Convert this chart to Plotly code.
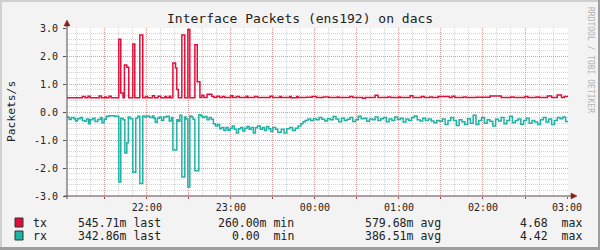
import plotly.graph_objects as go

# ---------------- data (minutes after 21:00) ----------------
tx_time = [3, 14, 16, 18, 19.5, 26, 27.5, 30, 31, 33, 34.5,
           40, 41.4, 43, 44, 45.7, 47.1, 50, 51.4, 55, 57.1,
           59, 60.5, 64, 65.5, 68, 70, 73, 74, 76, 77,
           78.6, 80.5, 81.4, 82.5, 85, 87.1, 89.3, 90.7, 94.3, 96, 97.9,
           99.3, 100.7, 103, 106.4, 108, 110, 112, 114, 115.5, 120, 121.4,
           124, 126, 131, 132, 137, 139, 148, 150, 155, 156, 162, 163,
           167, 168, 174, 178, 181, 186, 190, 196, 197, 205, 207, 214, 216,
           223, 225, 232, 234, 240, 241, 248, 250, 256, 258, 262, 264,
           268, 276, 278, 280, 286, 288, 295, 305, 313, 320, 322, 330, 332,
           338, 340, 346, 349, 353, 356, 358, 361]
tx_value = [0.51, 0.55, 0.51, 0.56, 0.51, 0.57, 0.51, 0.54, 0.51, 0.56, 0.51,
            2.60, 0.68, 0.51, 1.68, 1.60, 0.51, 2.43, 0.51, 2.75, 0.51,
            0.55, 0.51, 0.58, 0.51, 0.56, 0.51, 0.55, 0.51, 0.56, 0.51,
            1.75, 1.57, 0.80, 0.51, 2.75, 0.51, 2.95, 0.51, 2.40, 1.08, 0.52,
            0.60, 0.52, 0.63, 0.55, 0.52, 0.56, 0.52, 0.55, 0.52, 0.58, 0.52,
            0.55, 0.52, 0.56, 0.52, 0.55, 0.52, 0.56, 0.52, 0.55, 0.52, 0.55, 0.51,
            0.55, 0.52, 0.53, 0.55, 0.52, 0.54, 0.52, 0.54, 0.52, 0.55, 0.52, 0.49, 0.52,
            0.60, 0.52, 0.54, 0.52, 0.54, 0.52, 0.58, 0.52, 0.55, 0.52, 0.54, 0.52,
            0.55, 0.52, 0.56, 0.52, 0.54, 0.52, 0.53, 0.57, 0.52, 0.54, 0.52, 0.55, 0.52,
            0.54, 0.52, 0.57, 0.52, 0.61, 0.52, 0.55, 0.55]

rx_time = [3, 4.5, 6, 8, 9, 10.5, 12.5, 14, 15.5, 17, 18.5, 19.5, 21.5, 23, 25,
           27, 28, 29.5, 31, 33, 37,
           40, 41.4, 43, 44.3, 45.7, 46.8, 48, 50, 52.1, 53.5, 55, 57.1,
           58.5, 60, 62, 64, 65, 66, 67.5, 69, 70.5, 72, 74, 76, 77.5,
           78.6, 81.4, 82.5, 83.6, 85, 87.1, 88, 89.3, 90.7, 92, 93, 94.3, 97.1,
           98.6, 100, 101.5, 103, 104.5, 106, 107.5, 109, 110.5, 112, 113.5, 115,
           116.5, 118, 119.5, 121, 122.5, 124, 125.5, 127, 128.5, 130, 131.5, 133,
           134.5, 136, 137.5, 139, 141, 142.5, 144, 145.5, 147, 148.5, 150, 152,
           153.5, 156, 158, 160, 162, 164, 166, 168, 170, 171.5, 173, 175, 177,
           179, 181, 183, 185, 187, 189, 191, 193, 195, 197, 199, 201, 203, 205,
           207, 209, 211, 213, 215, 217, 219, 221, 223, 225, 227, 229, 231, 233,
           235, 237, 239, 241, 243, 245, 247, 249, 251, 253, 255, 257, 259, 261,
           263, 265, 267, 269, 271, 273, 275, 277, 279, 281, 283, 285, 287, 289,
           291, 293, 295, 297, 299, 301, 303, 305, 307, 309, 311, 313, 315, 317,
           319, 321, 323, 325, 327, 329, 331, 333, 335, 337, 339, 341, 343, 345,
           347, 349, 351, 353, 355, 357, 359, 361]
rx_value = [0.18, 0.27, 0.20, 0.24, 0.32, 0.24, 0.20, 0.30, 0.33, 0.25, 0.42, 0.28, 0.22, 0.34, 0.27,
            0.20, 0.38, 0.26, 0.15, 0.13, 0.15,
            2.50, 0.22, 0.28, 1.46, 1.10, 0.18, 0.24, 2.15, 0.22, 0.15, 2.55, 0.14,
            0.18, 0.14, 0.20, 0.14, 0.22, 0.37, 0.22, 0.18, 0.30, 0.18, 0.15, 0.32, 0.20,
            1.36, 0.28, 0.33, 0.12, 2.32, 0.18, 0.25, 2.68, 0.14, 0.18, 0.26, 2.10, 0.10,
            0.14, 0.20, 0.16, 0.28, 0.20, 0.26, 0.42, 0.50, 0.45, 0.60, 0.55, 0.66,
            0.55, 0.65, 0.58, 0.50, 0.62, 0.75, 0.60, 0.55, 0.68, 0.58, 0.52, 0.62,
            0.55, 0.75, 0.56, 0.50, 0.62, 0.55, 0.66, 0.52, 0.60, 0.70, 0.55, 0.62,
            0.72, 0.62, 0.75, 0.60, 0.55, 0.66, 0.58, 0.50, 0.42, 0.35, 0.30, 0.25, 0.30,
            0.24, 0.28, 0.20, 0.26, 0.32, 0.24, 0.28, 0.16, 0.25, 0.35, 0.22, 0.30, 0.26, 0.20,
            0.34, 0.28, 0.15, 0.24, 0.22, 0.33, 0.25, 0.28, 0.18, 0.30, 0.24, 0.20, 0.35, 0.25,
            0.30, 0.18, 0.27, 0.22, 0.36, 0.25, 0.30, 0.20, 0.14, 0.28, 0.32, 0.22, 0.30, 0.25,
            0.32, 0.38, 0.30, 0.33, 0.25, 0.45, 0.30, 0.20, 0.30, 0.48, 0.28, 0.35, 0.45, 0.24,
            0.40, 0.12, 0.45, 0.30, 0.20, 0.40, 0.28, 0.33, 0.50, 0.26, 0.32, 0.20, 0.42, 0.30,
            0.15, 0.38, 0.30, 0.25, 0.44, 0.30, 0.22, 0.40, 0.30, 0.36, 0.45, 0.28, 0.20, 0.36,
            0.25, 0.45, 0.30, 0.20, 0.24, 0.18, 0.34, 0.34]

x_tick_vals = [30, 60, 90, 120, 150, 180, 210, 240, 270, 300, 330, 360]
x_tick_text = ["", "22:00", "", "23:00", "", "00:00", "", "01:00", "", "02:00", "", "03:00"]
y_tick_vals = [-3, -2, -1, 0, 1, 2, 3]
y_tick_text = ["-3.0", "-2.0", "-1.0", "0.0", "1.0", "2.0", "3.0"]

series_names = ["tx", "rx"]
series_colors = ["#e0103a", "#1fb3a6"]
stat_last = ["545.71m last", "342.86m last"]
stat_min = ["260.00m min", "0.00\u00a0\u00a0min"]
stat_avg = ["579.68m avg", "386.51m avg"]
stat_max = ["4.68\u00a0\u00a0max", "4.42\u00a0\u00a0max"]

title = "Interface Packets (ens192) on dacs"
y_title = "Packets/s"
watermark = "RRDTOOL / TOBI OETIKER"

# ---------------- geometry ----------------
FW, FH = 600, 250
L, R, T, B = 67, 568, 28, 196
PW, PH = R - L, B - T


def px(xp):
    return (xp - L) / PW


def py(yp):
    return (B - yp) / PH


MONO = "DejaVu Sans Mono"

fig = go.Figure()
fig.add_trace(go.Scatter(x=tx_time, y=tx_value, mode="lines", line_shape="hv",
                         line=dict(color=series_colors[0], width=1.5),
                         name=series_names[0], hoverinfo="skip"))
fig.add_trace(go.Scatter(x=rx_time, y=[-v for v in rx_value], mode="lines", line_shape="hv",
                         line=dict(color=series_colors[1], width=1.5),
                         name=series_names[1], hoverinfo="skip"))

major_grid = "rgba(230,90,90,0.45)"
minor_grid = "rgba(150,150,150,0.4)"

fig.update_layout(
    width=FW, height=FH,
    margin=dict(l=L, r=FW - R, t=T, b=FH - B, pad=0),
    paper_bgcolor="#f3f3f3", plot_bgcolor="#ffffff",
    showlegend=False,
    font=dict(family=MONO, size=10, color="#222222"),
    xaxis=dict(range=[3, 360.7], tickmode="array", tickvals=x_tick_vals, ticktext=x_tick_text,
               showgrid=True, gridcolor=major_grid, griddash="1px,1px", gridwidth=1,
               zeroline=False, showline=False, ticks="outside", ticklen=2, tickcolor="#c04040",
               tickfont=dict(family=MONO, size=10, color="#222222"),
               minor=dict(dtick=10, tick0=0, showgrid=True, gridcolor=minor_grid,
                          griddash="1px,1px", gridwidth=1, ticks="")),
    yaxis=dict(range=[-3, 3], tickmode="array", tickvals=y_tick_vals, ticktext=y_tick_text,
               showgrid=True, gridcolor=major_grid, griddash="1px,1px", gridwidth=1,
               zeroline=False, showline=False, ticks="outside", ticklen=3, tickcolor="#555555",
               ticklabelstandoff=3,
               tickfont=dict(family=MONO, size=10, color="#222222"),
               minor=dict(dtick=0.2, tick0=0, showgrid=True, gridcolor=minor_grid,
                          griddash="1px,1px", gridwidth=1, ticks="")),
)

shapes = []
# frame of the canvas
shapes.append(dict(type="rect", xref="paper", yref="paper", x0=px(0), x1=px(600), y0=py(0), y1=py(2),
                   fillcolor="#d0d0d0", line=dict(width=0), layer="above"))
shapes.append(dict(type="rect", xref="paper", yref="paper", x0=px(0), x1=px(2), y0=py(0), y1=py(250),
                   fillcolor="#d0d0d0", line=dict(width=0), layer="above"))
shapes.append(dict(type="rect", xref="paper", yref="paper", x0=px(598), x1=px(600), y0=py(0), y1=py(250),
                   fillcolor="#9e9e9e", line=dict(width=0), layer="above"))
shapes.append(dict(type="rect", xref="paper", yref="paper", x0=px(0), x1=px(600), y0=py(247), y1=py(250),
                   fillcolor="#9e9e9e", line=dict(width=0), layer="above"))
# axes with arrows
shapes.append(dict(type="line", xref="paper", yref="paper", x0=px(67), x1=px(67), y0=py(199), y1=py(24),
                   line=dict(color="#5a4a4a", width=1), layer="above"))
shapes.append(dict(type="line", xref="paper", yref="paper", x0=px(64), x1=px(572), y0=py(196), y1=py(196),
                   line=dict(color="#5a4a4a", width=1), layer="above"))
shapes.append(dict(type="path", xref="paper", yref="paper",
                   path=f"M {px(64)},{py(26)} L {px(70)},{py(26)} L {px(67)},{py(20)} Z",
                   fillcolor="#8a1c1c", line=dict(color="#8a1c1c", width=0.5), layer="above"))
shapes.append(dict(type="path", xref="paper", yref="paper",
                   path=f"M {px(571)},{py(193)} L {px(571)},{py(199)} L {px(577)},{py(196)} Z",
                   fillcolor="#8a1c1c", line=dict(color="#8a1c1c", width=0.5), layer="above"))

annotations = []
annotations.append(dict(text=title, xref="paper", yref="paper", x=px(300), y=py(19),
                        xanchor="center", yanchor="middle", showarrow=False,
                        font=dict(family=MONO, size=13, color="#222222")))
annotations.append(dict(text=y_title, xref="paper", yref="paper", x=px(11), y=py(112),
                        xanchor="center", yanchor="middle", showarrow=False, textangle=-90,
                        font=dict(family=MONO, size=11.3, color="#222222")))
annotations.append(dict(text=watermark, xref="paper", yref="paper", x=px(591), y=py(60),
                        xanchor="center", yanchor="middle", showarrow=False, textangle=90,
                        font=dict(family=MONO, size=8, color="#b4b4b4")))

row_y = [222.5, 235.5]
for i in range(2):
    yy = row_y[i]
    shapes.append(dict(type="rect", xref="paper", yref="paper", x0=px(15), x1=px(23),
                       y0=py(yy - 4.5), y1=py(yy + 4.5), fillcolor=series_colors[i],
                       line=dict(color="#333333", width=1), layer="above"))
    for txt, xp, anchor in [(series_names[i], 31, "left"), (stat_last[i], 76, "left"),
                            (stat_min[i], 296, "right"), (stat_avg[i], 363, "left"),
                            (stat_max[i], 584, "right")]:
        annotations.append(dict(text=txt, xref="paper", yref="paper", x=px(xp), y=py(yy),
                                xanchor=anchor, yanchor="middle", showarrow=False,
                                font=dict(family=MONO, size=11.5, color="#222222")))

fig.update_layout(shapes=shapes, annotations=annotations)
fig.write_html("out.html")
